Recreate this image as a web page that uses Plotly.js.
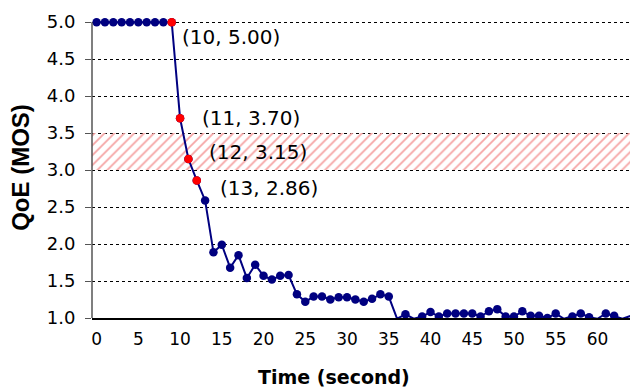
<!DOCTYPE html>
<html>
<head>
<meta charset="utf-8">
<script src="https://cdn.plot.ly/plotly-3.0.1.min.js"></script>
<style>html,body{margin:0;padding:0;background:#fff;}#chart{width:630px;height:390px;}</style>
</head>
<body>
<div id="chart"></div>
<script>
// Category positions along the time axis
var timePos = [0,1,2,3,4,5,6,7,8,9,10,11,12,13,14,15,16,17,18,19,20,21,22,23,24,25,26,27,28,29,30,31,32,33,34,35,36,37,38,39,40,41,42,43,44,45,46,47,48,49,50,51,52,53,54,55,56,57,58,59,60,61,62,63,64];
// QoE (MOS) values
var qoe = [5.00,5.00,5.00,5.00,5.00,5.00,5.00,5.00,5.00,5.00,3.70,3.15,2.86,2.59,1.89,1.99,1.68,1.85,1.54,1.72,
           1.57,1.52,1.57,1.58,1.32,1.22,1.29,1.29,1.25,1.28,1.28,1.25,1.22,1.26,1.32,1.29,0.99,1.05,0.99,1.02,
           1.08,1.02,1.06,1.06,1.06,1.06,1.02,1.09,1.12,1.02,1.02,1.09,1.03,1.03,1.00,1.06,0.99,1.02,1.06,1.01,
           0.99,1.06,1.03,0.99,1.03];
// Highlighted (red) points
var highlightIdx = [9,10,11,12];
var highlightLabels = ['(10, 5.00)','(11, 3.70)','(12, 3.15)','(13, 2.86)'];
// Tick labels on the time axis
var xTickVals = [0,5,10,15,20,25,30,35,40,45,50,55,60];
var xTickText = ['0','5','10','15','20','25','30','35','40','45','50','55','60'];
// Hatched band
var bandLow = 3.0, bandHigh = 3.5;

var xRange = [-0.55, 63.9];
var yRange = [1, 5.07];

var hlX = highlightIdx.map(function(i){return timePos[i];});
var hlY = highlightIdx.map(function(i){return qoe[i];});

var band = {
  x: [xRange[0], xRange[1], xRange[1], xRange[0], xRange[0]],
  y: [bandLow, bandLow, bandHigh, bandHigh, bandLow],
  type: 'scatter', mode: 'lines', fill: 'toself',
  fillcolor: 'rgba(0,0,0,0)',
  fillpattern: {shape: '/', fgcolor: '#f5a3a3', bgcolor: 'rgba(0,0,0,0)', size: 7, solidity: 0.25},
  line: {width: 0}, hoverinfo: 'skip', showlegend: false
};
var main = {
  x: timePos, y: qoe, type: 'scatter', mode: 'lines+markers',
  line: {color: '#000080', width: 2},
  marker: {color: '#000080', size: 8.5},
  cliponaxis: true, showlegend: false
};
var red = {
  x: hlX, y: hlY, type: 'scatter', mode: 'markers',
  marker: {color: '#ff0000', size: 8.5},
  cliponaxis: false, showlegend: false
};

var shifts = [[8,-15],[20,0],[19,7],[21,-8]];
var annotations = highlightLabels.map(function(t, k){
  return {x: hlX[k], y: hlY[k], xref: 'x', yref: 'y', text: t, showarrow: false,
    xanchor: 'left', yanchor: 'middle', xshift: shifts[k][0], yshift: shifts[k][1],
    font: {family: 'DejaVu Sans', size: 20, color: '#000'}};
});
annotations.push({xref: 'paper', yref: 'paper', x: (334-92)/538, y: -(377-318)/301, text: 'Time (second)',
  showarrow: false, xanchor: 'center', yanchor: 'middle',
  font: {family: 'DejaVu Sans', size: 19, color: '#000', weight: 'bold'}});

var layout = {
  width: 630, height: 390,
  margin: {l: 92, r: 0, t: 17, b: 72, pad: 0},
  paper_bgcolor: '#fff', plot_bgcolor: '#fff',
  showlegend: false,
  xaxis: {
    range: xRange, tickvals: xTickVals, ticktext: xTickText,
    showgrid: false, zeroline: false, showline: true, linecolor: '#000', linewidth: 2,
    ticks: 'outside', ticklen: 5, tickcolor: 'rgba(0,0,0,0)',
    tickfont: {family: 'DejaVu Sans', size: 17, color: '#000'}
  },
  yaxis: {
    range: yRange, tickvals: [1,1.5,2,2.5,3,3.5,4,4.5,5], tickformat: '.1f',
    showgrid: true, gridcolor: '#000', gridwidth: 1, griddash: '3px,3px',
    zeroline: false, showline: false,
    ticks: 'outside', ticklen: 6, tickcolor: '#555', tickwidth: 1,
    ticklabelstandoff: 6,
    tickfont: {family: 'DejaVu Sans', size: 18, color: '#000'},
    title: {text: 'QoE (MOS)', standoff: 10, font: {family: 'Liberation Sans, Arial', size: 24, color: '#000', weight: 'bold'}}
  },
  shapes: [{type: 'line', xref: 'paper', yref: 'y', x0: 0, x1: 0, y0: 1, y1: 5,
    line: {color: '#555', width: 1.5}, layer: 'above'}],
  annotations: annotations
};

Plotly.newPlot('chart', [band, main, red], layout, {displayModeBar: false, staticPlot: true});
</script>
</body>
</html>
